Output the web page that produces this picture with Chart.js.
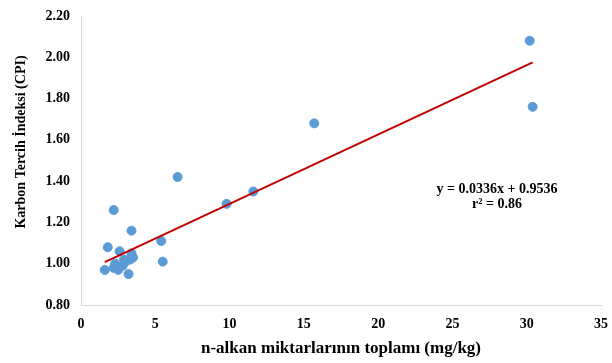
<!DOCTYPE html>
<html>
<head>
<meta charset="utf-8">
<script src="https://cdn.jsdelivr.net/npm/chart.js@4"></script>
<style>
  html, body { margin: 0; padding: 0; background: #fff; }
  #wrap { width: 612px; height: 363px; }
</style>
</head>
<body>
<div id="wrap"><canvas id="cpi-chart" width="612" height="363"></canvas></div>
<script>
// n-alkane totals (mg/kg) and carbon preference index per sample
const alkanTotals = [30.2, 30.4, 15.7, 6.5, 11.6, 9.8, 2.2, 3.4, 5.4, 5.5, 1.8, 1.6, 2.2, 2.6, 2.8, 3.2, 2.3, 2.9, 3.4, 3.5, 3.0, 2.5, 3.3];
const cpiValues = [2.08, 1.76, 1.68, 1.42, 1.35, 1.29, 1.26, 1.16, 1.11, 1.01, 1.08, 0.97, 0.98, 1.06, 0.99, 0.95, 1.00, 1.02, 1.05, 1.03, 1.01, 0.97, 1.02];

// linear fit shown on the chart
const slope = 0.0336;
const intercept = 0.9536;
const rSquared = 0.86;
const fitRange = [1.6, 30.4];

const xTicks = [0, 5, 10, 15, 20, 25, 30, 35];
const yTicks = [0.8, 1.0, 1.2, 1.4, 1.6, 1.8, 2.0, 2.2];

const xTitle = "n-alkan miktarlarının toplamı (mg/kg)";
const yTitle = "Karbon Tercih İndeksi (CPI)";

const serif = "'Liberation Serif', 'Times New Roman', serif";

const points = alkanTotals.map((x, i) => ({ x: x, y: cpiValues[i] }));
const fitLine = fitRange.map((x) => ({ x: x, y: slope * x + intercept }));

// axis titles and the regression equation are drawn by hand
const chartText = {
  id: "chartText",
  afterDraw(chart) {
    const ctx = chart.ctx;
    const xs = chart.scales.x;
    const ys = chart.scales.y;
    ctx.save();
    ctx.fillStyle = "#000";
    ctx.textAlign = "center";
    ctx.textBaseline = "middle";

    ctx.font = "bold 14px " + serif;
    const cx = xs.getPixelForValue(28.0);
    const cy = ys.getPixelForValue(1.36);
    ctx.fillText("y = " + slope + "x + " + intercept, cx, cy);
    ctx.fillText("r\u00B2 = " + rSquared, cx, cy + 15);

    ctx.font = "bold 17px " + serif;
    ctx.fillText(xTitle, (chart.chartArea.left + chart.chartArea.right) / 2, 349);

    ctx.font = "bold 14px " + serif;
    ctx.translate(21, 142);
    ctx.rotate(-Math.PI / 2);
    ctx.fillText(yTitle, 0, 0);
    ctx.restore();
  },
};

new Chart(document.querySelector("#cpi-chart").getContext("2d"), {
  type: "scatter",
  data: {
    datasets: [
      {
        label: "CPI",
        data: points,
        backgroundColor: "#5B9BD5",
        borderColor: "#5B9BD5",
        pointRadius: 4.5,
        pointHoverRadius: 4.5,
        order: 2,
      },
      {
        type: "line",
        label: "fit",
        data: fitLine,
        borderColor: "#C00000",
        borderWidth: 2,
        pointRadius: 0,
        fill: false,
        order: 1,
      },
    ],
  },
  options: {
    responsive: false,
    animation: false,
    layout: { padding: { top: 16, right: 11, left: 0, bottom: 0 } },
    plugins: {
      legend: { display: false },
      tooltip: { enabled: false },
    },
    scales: {
      x: {
        type: "linear",
        min: 0,
        max: 35,
        afterBuildTicks: (axis) => { axis.ticks = xTicks.map((v) => ({ value: v })); },
        grid: { display: false, drawTicks: false },
        border: { color: "#d9d9d9", width: 1 },
        ticks: {
          color: "#000",
          font: { family: serif, size: 14, weight: "bold" },
          padding: 11,
        },
        afterFit: (axis) => {
          axis.height = 58;
          axis.paddingLeft = 0;
          axis.paddingRight = 0;
        },
      },
      y: {
        type: "linear",
        min: 0.8,
        max: 2.2,
        afterBuildTicks: (axis) => { axis.ticks = yTicks.map((v) => ({ value: v })); },
        grid: { display: false, drawTicks: false },
        border: { color: "#d9d9d9", width: 1 },
        ticks: {
          color: "#000",
          font: { family: serif, size: 14, weight: "bold" },
          padding: 11,
          callback: (v) => Number(v).toFixed(2),
        },
        afterFit: (axis) => {
          axis.width = 81;
          axis.paddingTop = 0;
          axis.paddingBottom = 0;
        },
      },
    },
  },
  plugins: [chartText],
});
</script>
</body>
</html>
